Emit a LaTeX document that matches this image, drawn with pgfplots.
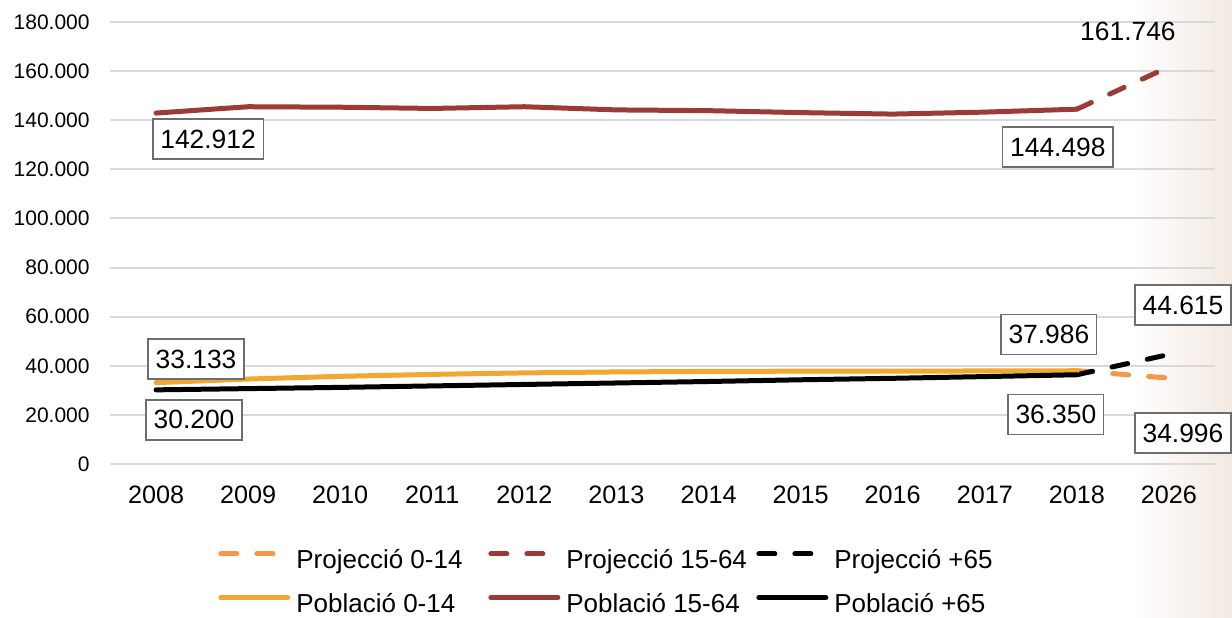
\documentclass[border=0pt]{standalone}
\usepackage{pgfplots}
\pgfplotsset{compat=1.18}
\usepackage{fontspec}
\setmainfont{Liberation Sans}
\definecolor{cRed}{RGB}{155,58,54}
\definecolor{cOrange}{RGB}{240,168,48}
\definecolor{cOrangeP}{RGB}{245,152,72}
\definecolor{cGrid}{RGB}{217,217,217}
\definecolor{cBox}{RGB}{110,110,110}
\definecolor{cBg}{RGB}{242,233,226}
\newcommand{\lt}[2]{\makebox[#1][l]{\hspace{3pt}\rule[-7.1pt]{0pt}{23.5pt}#2}}
\begin{document}
\begin{tikzpicture}
\shade[left color=white, right color=cBg] (510pt,-76.5pt) rectangle (561pt,232pt);
\begin{axis}[
  at={(0,0)}, anchor=south west,
  scale only axis, width=552.5pt, height=221pt,
  xmin=-0.5, xmax=11.5, ymin=0, ymax=180000,
  axis line style={draw=none},
  ymajorgrids, grid style={cGrid, line width=1pt},
  ytick={0,20000,...,180000},
  xtick={0,...,11},
  xticklabels={2008,2009,2010,2011,2012,2013,2014,2015,2016,2017,2018,2026},
  major tick length=0pt,
  /pgf/number format/.cd, fixed, precision=0, 1000 sep={.}, assume math mode=true,
  /pgfplots/.cd,
  yticklabel style={font=\fontsize{10.5pt}{12pt}\selectfont, inner sep=0pt, anchor=east, xshift=-10pt},
  xticklabel style={font=\fontsize{12.6pt}{14pt}\selectfont, inner sep=0pt, anchor=north, yshift=-10.5pt},
  scaled y ticks=false,
  legend columns=3,
  legend style={draw=none, fill=none, inner sep=0pt, column sep=0pt, row sep=4pt,
    nodes={inner sep=0pt}, font=\fontsize{13pt}{15pt}\selectfont,
    at={(0.0977,0)}, anchor=north west, yshift=-35.75pt},
  legend image code/.code={\path[draw=none] (0pt,0pt) -- (36pt,0pt); \draw[#1] (1.25pt,0pt) -- (34.75pt,0pt);},
  every axis plot/.append style={line width=2.5pt, line cap=round, line join=round},
  proj/.style={dash pattern=on 8pt off 10pt,
    legend image code/.code={\path[draw=none] (0pt,0pt) -- (36pt,0pt); \draw[##1] (1.25pt,0pt) -- (28.25pt,0pt);}},
  clip=false,
]
\addplot[cOrangeP, proj] coordinates {(10,37986) (11,34996)};
\addlegendentry{\lt{99pt}{Projecció 0-14}}
\addplot[cRed, proj] coordinates {(10,144498) (11,161746)};
\addlegendentry{\lt{98pt}{Projecció 15-64}}
\addplot[black, proj] coordinates {(10,36350) (11,44615)};
\addlegendentry{\lt{85pt}{Projecció +65}}
\addplot[cOrange] coordinates {(0,33133) (1,34600) (2,35700) (3,36500) (4,37100) (5,37500) (6,37700) (7,37800) (8,37800) (9,37900) (10,37986)};
\addlegendentry{\lt{99pt}{Població 0-14}}
\addplot[cRed] coordinates {(0,142912) (1,145500) (2,145300) (3,144800) (4,145500) (5,144200) (6,143900) (7,143100) (8,142500) (9,143300) (10,144498)};
\addlegendentry{\lt{98pt}{Població 15-64}}
\addplot[black] coordinates {(0,30200) (1,30700) (2,31200) (3,31800) (4,32400) (5,33000) (6,33600) (7,34300) (8,34900) (9,35600) (10,36350)};
\addlegendentry{\lt{85pt}{Població +65}}
\tikzset{dl/.style={draw=cBox, line width=0.7pt, fill=white, inner xsep=3.75pt, inner ysep=0pt, minimum height=20pt, font=\fontsize{13.2pt}{15pt}\selectfont}}
\node[dl, xshift=26pt, yshift=-13pt] at (axis cs:0,142912) {142.912};
\node[dl, xshift=-9.5pt, yshift=-19pt] at (axis cs:10,144498) {144.498};
\node[font=\fontsize{13.2pt}{15pt}\selectfont, xshift=-20.5pt, yshift=17.5pt] at (axis cs:11,161746) {161.746};
\node[dl, xshift=-14pt, yshift=18pt] at (axis cs:10,37986) {37.986};
\node[dl, xshift=-10.5pt, yshift=-20pt] at (axis cs:10,36350) {36.350};
\node[dl, xshift=7pt, yshift=24.7pt] at (axis cs:11,44615) {44.615};
\node[dl, xshift=7pt, yshift=-27.5pt] at (axis cs:11,34996) {34.996};
\node[dl, xshift=20pt, yshift=11.8pt] at (axis cs:0,33133) {33.133};
\node[dl, xshift=19pt, yshift=-15pt] at (axis cs:0,30200) {30.200};
\end{axis}
\pgfresetboundingbox
\path[use as bounding box] (-55pt,-76.5pt) rectangle (561pt,232pt);
\end{tikzpicture}
\end{document}
